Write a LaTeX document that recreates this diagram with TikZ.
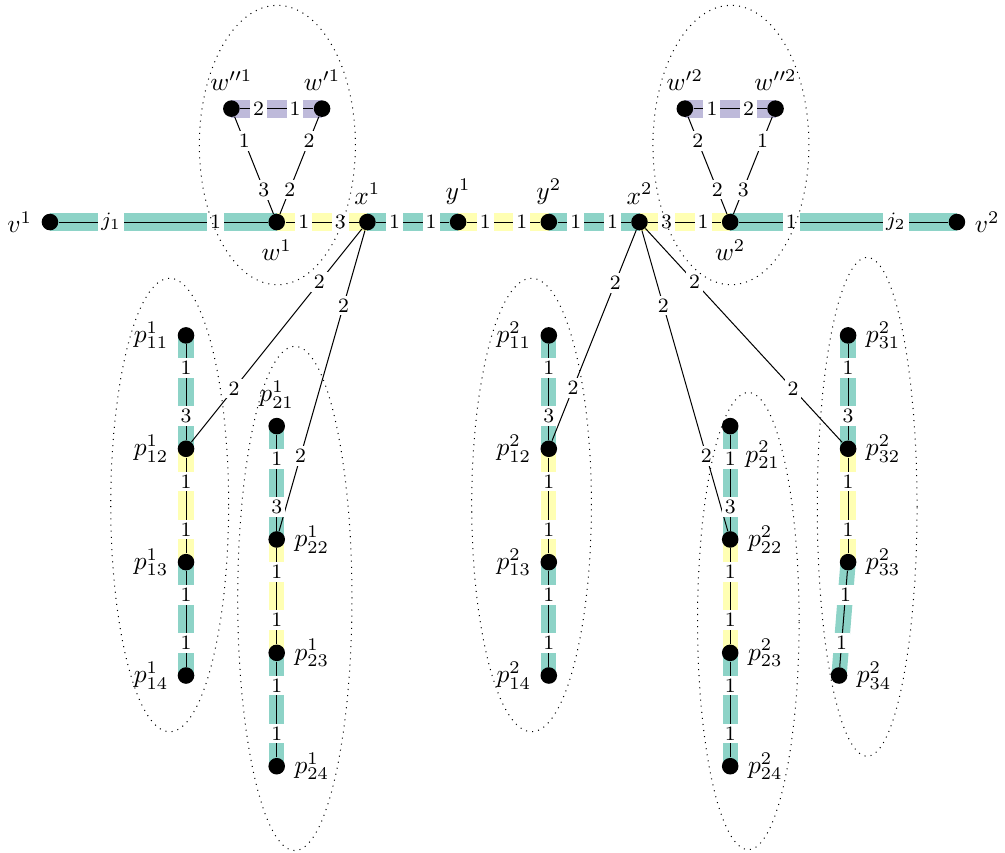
\documentclass[tikz,border=0pt]{standalone}
\usetikzlibrary{backgrounds}
\definecolor{bandteal}{HTML}{8DD3C7}
\definecolor{bandyellow}{HTML}{FFFFB3}
\definecolor{bandlav}{HTML}{BEBADA}
\begin{document}
\begin{tikzpicture}[x=1.25cm,y=1.25cm]
	\tikzstyle{vtx}=[circle,fill=black,inner sep=0pt,minimum size=6.5pt]
	\tikzstyle{elbl}=[fill=white,inner sep=1.2pt,font=\footnotesize]
	\tikzstyle{tband}=[draw=bandteal,line width=7pt]
	\tikzstyle{yband}=[draw=bandyellow,line width=7pt]
	\tikzstyle{lband}=[draw=bandlav,line width=7pt]
	\tikzstyle{vband}=[line width=6pt]
	\useasboundingbox (-0.551,-6.946) rectangle (10.53,2.448);
	\node [vtx,label=left:$v^1$] (v1) at (0,0) {};
	\node [vtx,label=below:$w^1$] (w1) at (2.5,0) {};
	\node [vtx,label=above:$x^1$] (x1) at (3.5,0) {};
	\node [vtx,label=above:$y^1$] (y1) at (4.5,0) {};
	\node [vtx,label=above:$y^2$] (y2) at (5.5,0) {};
	\node [vtx,label=above:$x^2$] (x2) at (6.5,0) {};
	\node [vtx,label=below:$w^2$] (w2) at (7.5,0) {};
	\node [vtx,label=right:$v^2$] (v2) at (10,0) {};
	\node [vtx,label=above:$w''^1$] (wdd1) at (2,1.25) {};
	\node [vtx,label=above:$w'^1$] (wd1) at (3,1.25) {};
	\node [vtx,label=above:$w'^2$] (wd2) at (7,1.25) {};
	\node [vtx,label=above:$w''^2$] (wdd2) at (8,1.25) {};
	\node [vtx,label=left:$p^1_{11}$] (pa11) at (1.5,-1.25) {};
	\node [vtx,label=left:$p^1_{12}$] (pa12) at (1.5,-2.5) {};
	\node [vtx,label=left:$p^1_{13}$] (pa13) at (1.5,-3.75) {};
	\node [vtx,label=left:$p^1_{14}$] (pa14) at (1.5,-5) {};
	\node [vtx,label=above:$p^1_{21}$] (pa21) at (2.5,-2.25) {};
	\node [vtx,label=right:$p^1_{22}$] (pa22) at (2.5,-3.5) {};
	\node [vtx,label=right:$p^1_{23}$] (pa23) at (2.5,-4.75) {};
	\node [vtx,label=right:$p^1_{24}$] (pa24) at (2.5,-6) {};
	\node [vtx,label=left:$p^2_{11}$] (pb11) at (5.5,-1.25) {};
	\node [vtx,label=left:$p^2_{12}$] (pb12) at (5.5,-2.5) {};
	\node [vtx,label=left:$p^2_{13}$] (pb13) at (5.5,-3.75) {};
	\node [vtx,label=left:$p^2_{14}$] (pb14) at (5.5,-5) {};
	\node [vtx,label=below right:$p^2_{21}$] (pb21) at (7.5,-2.25) {};
	\node [vtx,label=right:$p^2_{22}$] (pb22) at (7.5,-3.5) {};
	\node [vtx,label=right:$p^2_{23}$] (pb23) at (7.5,-4.75) {};
	\node [vtx,label=right:$p^2_{24}$] (pb24) at (7.5,-6) {};
	\node [vtx,label=right:$p^2_{31}$] (pb31) at (8.8,-1.25) {};
	\node [vtx,label=right:$p^2_{32}$] (pb32) at (8.8,-2.5) {};
	\node [vtx,label=right:$p^2_{33}$] (pb33) at (8.8,-3.75) {};
	\node [vtx,label=right:$p^2_{34}$] (pb34) at (8.7,-5) {};
	\begin{pgfonlayer}{background}
		\draw [tband] (v1.center) -- (w1.center);
		\draw [yband] (w1.center) -- (x1.center);
		\draw [tband] (x1.center) -- (y1.center);
		\draw [yband] (y1.center) -- (y2.center);
		\draw [tband] (y2.center) -- (x2.center);
		\draw [yband] (x2.center) -- (w2.center);
		\draw [tband] (w2.center) -- (v2.center);
		\draw [lband] (wdd1.center) -- (wd1.center);
		\draw [lband] (wd2.center) -- (wdd2.center);
		\draw [tband,vband] (pa11.center) -- (pa12.center);
		\draw [yband,vband] (pa12.center) -- (pa13.center);
		\draw [tband,vband] (pa13.center) -- (pa14.center);
		\draw [tband,vband] (pa21.center) -- (pa22.center);
		\draw [yband,vband] (pa22.center) -- (pa23.center);
		\draw [tband,vband] (pa23.center) -- (pa24.center);
		\draw [tband,vband] (pb11.center) -- (pb12.center);
		\draw [yband,vband] (pb12.center) -- (pb13.center);
		\draw [tband,vband] (pb13.center) -- (pb14.center);
		\draw [tband,vband] (pb21.center) -- (pb22.center);
		\draw [yband,vband] (pb22.center) -- (pb23.center);
		\draw [tband,vband] (pb23.center) -- (pb24.center);
		\draw [tband,vband] (pb31.center) -- (pb32.center);
		\draw [yband,vband] (pb32.center) -- (pb33.center);
		\draw [tband,vband] (pb33.center) -- (pb34.center);
	\end{pgfonlayer}
	\draw (v1) -- node [elbl,near start] {$j_1$} node [elbl,near end] {1} (w1);
	\draw (w1) -- node [elbl,near start] {1} node [elbl,near end] {3} (x1);
	\draw (x1) -- node [elbl,near start] {1} node [elbl,near end] {1} (y1);
	\draw (y1) -- node [elbl,near start] {1} node [elbl,near end] {1} (y2);
	\draw (y2) -- node [elbl,near start] {1} node [elbl,near end] {1} (x2);
	\draw (x2) -- node [elbl,near start] {3} node [elbl,near end] {1} (w2);
	\draw (w2) -- node [elbl,near start] {1} node [elbl,near end] {$j_2$} (v2);
	\draw (wdd1) -- node [elbl,near start] {2} node [elbl,near end] {1} (wd1);
	\draw (wdd1) -- node [elbl,near start] {1} node [elbl,near end] {3} (w1);
	\draw (wd1) -- node [elbl,near start] {2} node [elbl,near end] {2} (w1);
	\draw (wd2) -- node [elbl,near start] {1} node [elbl,near end] {2} (wdd2);
	\draw (wd2) -- node [elbl,near start] {2} node [elbl,near end] {2} (w2);
	\draw (wdd2) -- node [elbl,near start] {1} node [elbl,near end] {3} (w2);
	\draw (x1) -- node [elbl,near start] {2} node [elbl,near end] {2} (pa12);
	\draw (x1) -- node [elbl,near start] {2} node [elbl,near end] {2} (pa22);
	\draw (x2) -- node [elbl,near start] {2} node [elbl,near end] {2} (pb12);
	\draw (x2) -- node [elbl,near start] {2} node [elbl,near end] {2} (pb22);
	\draw (x2) -- node [elbl,near start] {2} node [elbl,near end] {2} (pb32);
	\draw (pa11) -- node [elbl,near start] {1} node [elbl,near end] {3} (pa12);
	\draw (pa12) -- node [elbl,near start] {1} node [elbl,near end] {1} (pa13);
	\draw (pa13) -- node [elbl,near start] {1} node [elbl,near end] {1} (pa14);
	\draw (pa21) -- node [elbl,near start] {1} node [elbl,near end] {3} (pa22);
	\draw (pa22) -- node [elbl,near start] {1} node [elbl,near end] {1} (pa23);
	\draw (pa23) -- node [elbl,near start] {1} node [elbl,near end] {1} (pa24);
	\draw (pb11) -- node [elbl,near start] {1} node [elbl,near end] {3} (pb12);
	\draw (pb12) -- node [elbl,near start] {1} node [elbl,near end] {1} (pb13);
	\draw (pb13) -- node [elbl,near start] {1} node [elbl,near end] {1} (pb14);
	\draw (pb21) -- node [elbl,near start] {1} node [elbl,near end] {3} (pb22);
	\draw (pb22) -- node [elbl,near start] {1} node [elbl,near end] {1} (pb23);
	\draw (pb23) -- node [elbl,near start] {1} node [elbl,near end] {1} (pb24);
	\draw (pb31) -- node [elbl,near start] {1} node [elbl,near end] {3} (pb32);
	\draw (pb32) -- node [elbl,near start] {1} node [elbl,near end] {1} (pb33);
	\draw (pb33) -- node [elbl,near start] {1} node [elbl,near end] {1} (pb34);
	\draw [dotted] (2.507,0.849) ellipse [x radius=0.86, y radius=1.54];
	\draw [dotted] (7.508,0.849) ellipse [x radius=0.86, y radius=1.54];
	\draw [dotted] (1.32,-3.12) ellipse [x radius=0.65, y radius=2.5];
	\draw [dotted] (2.7,-4.15) ellipse [x radius=0.63, y radius=2.78];
	\draw [dotted] (5.31,-3.12) ellipse [x radius=0.66, y radius=2.5];
	\draw [dotted] (7.7,-4.4) ellipse [x radius=0.56, y radius=2.52];
	\draw [dotted] (9.01,-3.14) ellipse [x radius=0.55, y radius=2.75];
\end{tikzpicture}
\end{document}
